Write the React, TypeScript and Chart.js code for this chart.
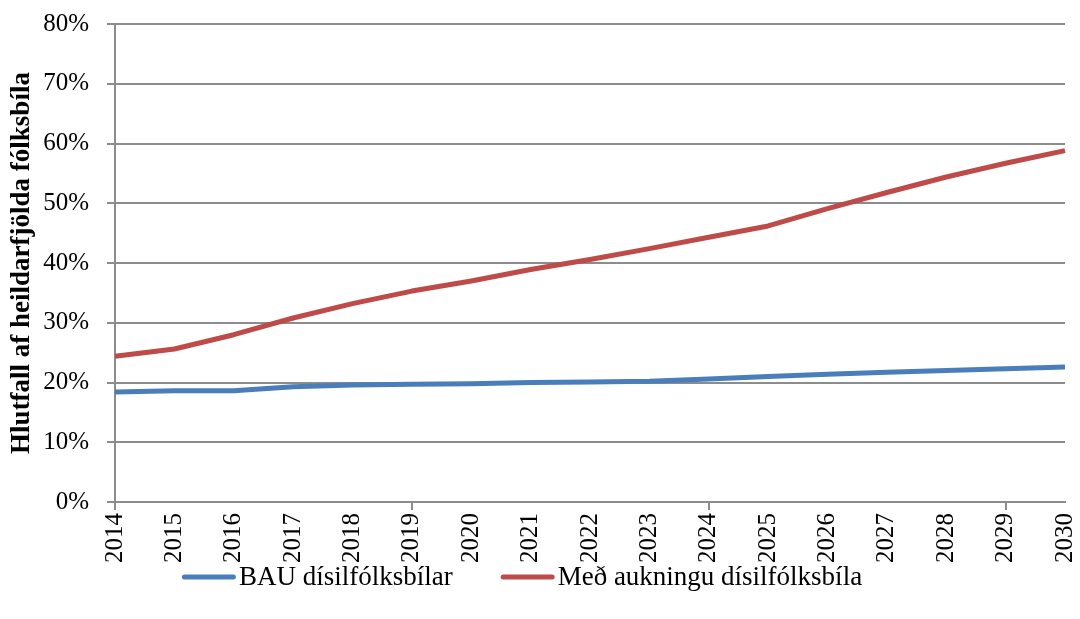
import React, { useEffect, useRef } from "react";
import { Chart, registerables } from "chart.js";

Chart.register(...registerables);

const years = ["2014","2015","2016","2017","2018","2019","2020","2021","2022","2023","2024","2025","2026","2027","2028","2029","2030"];
const bauLabel = "BAU dísilfólksbílar";
const bauValues = [18.4, 18.6, 18.6, 19.3, 19.6, 19.7, 19.8, 20.0, 20.1, 20.2, 20.6, 21.0, 21.4, 21.7, 22.0, 22.3, 22.6];
const incLabel = "Með aukningu dísilfólksbíla";
const incValues = [24.4, 25.6, 28.0, 30.8, 33.2, 35.3, 37.0, 38.9, 40.6, 42.4, 44.3, 46.2, 49.1, 51.8, 54.4, 56.7, 58.8];
const yTicks = [0, 10, 20, 30, 40, 50, 60, 70, 80];
const yTitle = "Hlutfall af heildarfjölda fólksbíla";

const FONT = "'Liberation Serif', 'Times New Roman', serif";
const GRID = "#8c8c8c";

const legendPlugin = {
  id: "lineLegend",
  afterDraw(chart: any, _args: any, opts: any) {
    const ctx = chart.ctx;
    ctx.save();
    ctx.font = `${opts.fontSize}px ${FONT}`;
    const items = chart.data.datasets.map((ds: any) => ({
      label: ds.label,
      color: ds.borderColor,
      w: ctx.measureText(ds.label).width,
    }));
    const total =
      items.reduce((s: number, it: any) => s + opts.sampleWidth + opts.textGap + it.w, 0) +
      opts.itemGap * (items.length - 1);
    let x = opts.centerX - total / 2;
    const y = opts.y;
    ctx.textBaseline = "middle";
    ctx.textAlign = "left";
    for (const it of items) {
      ctx.strokeStyle = it.color;
      ctx.lineWidth = 5;
      ctx.lineCap = "round";
      ctx.beginPath();
      ctx.moveTo(x + 2.5, y);
      ctx.lineTo(x + opts.sampleWidth - 2.5, y);
      ctx.stroke();
      x += opts.sampleWidth + opts.textGap;
      ctx.fillStyle = "#000";
      ctx.fillText(it.label, x, y + 1);
      x += it.w + opts.itemGap;
    }
    ctx.restore();
  },
};

export default function App() {
  const ref = useRef<HTMLCanvasElement | null>(null);
  useEffect(() => {
    document.body.style.margin = "0";
    if (!ref.current) return;
    const chart = new Chart(ref.current, {
      type: "line",
      data: {
        labels: years,
        datasets: [
          {
            label: bauLabel,
            data: bauValues,
            borderColor: "#4A7EBB",
            backgroundColor: "#4A7EBB",
            borderWidth: 5,
            pointRadius: 0,
            tension: 0,
            borderJoinStyle: "round",
          },
          {
            label: incLabel,
            data: incValues,
            borderColor: "#BE4B48",
            backgroundColor: "#BE4B48",
            borderWidth: 5,
            pointRadius: 0,
            tension: 0,
            borderJoinStyle: "round",
          },
        ],
      },
      options: {
        animation: false,
        responsive: true,
        maintainAspectRatio: false,
        layout: { padding: { top: 24, right: 15, bottom: 0, left: 0 } },
        plugins: {
          legend: { display: false },
          tooltip: { enabled: false },
          lineLegend: { fontSize: 27, sampleWidth: 54, textGap: 3, itemGap: 48, centerX: 522, y: 577 },
        } as any,
        scales: {
          x: {
            offset: false,
            grid: {
              display: true,
              drawOnChartArea: false,
              drawTicks: true,
              tickLength: 8,
              lineWidth: 2,
              color: (c: any) => (c.index % 5 === 0 ? GRID : "rgba(0,0,0,0)"),
            },
            border: { display: true, color: GRID, width: 2 },
            ticks: {
              autoSkip: false,
              maxRotation: 90,
              minRotation: 90,
              padding: 3,
              color: "#000",
              font: { family: FONT, size: 25 },
            },
            afterFit: (s: any) => {
              s.height = 117;
              s.paddingLeft = 0;
              s.paddingRight = 0;
            },
          },
          y: {
            min: 0,
            max: 80,
            afterBuildTicks: (s: any) => {
              s.ticks = yTicks.map((v) => ({ value: v }));
            },
            grid: { color: GRID, lineWidth: 2, tickLength: 8, drawTicks: true },
            border: { display: true, color: GRID, width: 2 },
            ticks: {
              padding: 18,
              color: "#000",
              font: { family: FONT, size: 25 },
              callback: (v: any) => `${v}%`,
            },
            title: {
              display: true,
              text: yTitle,
              color: "#000",
              font: { family: FONT, size: 27, weight: "bold" },
              padding: { top: 6, bottom: 0 },
            },
            afterFit: (s: any) => {
              s.width = 115;
              s.paddingTop = 0;
              s.paddingBottom = 0;
            },
          },
        },
      },
      plugins: [legendPlugin],
    });
    return () => chart.destroy();
  }, []);
  return (
    <div style={{ position: "relative", width: 1080, height: 619 }}>
      <canvas ref={ref} />
    </div>
  );
}
